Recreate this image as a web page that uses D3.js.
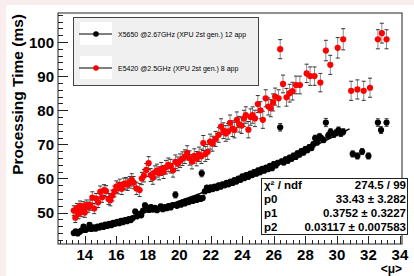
<!DOCTYPE html>
<html><head><meta charset="utf-8">
<script src="https://cdn.jsdelivr.net/npm/d3@7"></script>
<style>
html,body{margin:0;padding:0;background:#f9eded;}
svg{display:block;font-family:"Liberation Sans",Arial,sans-serif;}
</style></head><body>
<svg id="c" width="414" height="276"></svg>
<script>
// ---- data ----
const blackMu = [13.30,13.42,13.55,13.68,13.80,13.92,14.05,14.18,14.30,14.42,14.55,14.68,14.80,14.92,15.05,15.18,15.30,15.42,15.55,15.68,15.80,15.92,16.05,16.18,16.30,16.42,16.55,16.68,16.80,16.92,17.05,17.20,17.32,17.45,17.58,17.70,17.82,17.95,18.08,18.20,18.32,18.45,18.58,18.70,18.82,18.95,19.08,19.20,19.32,19.45,19.58,19.75,19.85,19.98,20.10,20.22,20.35,20.48,20.60,20.72,20.85,20.98,21.10,21.22,21.35,21.42,21.48,21.62,21.75,21.88,22.00,22.12,22.25,22.38,22.50,22.62,22.75,22.88,23.00,23.12,23.25,23.38,23.50,23.62,23.75,23.88,24.00,24.12,24.25,24.38,24.50,24.62,24.75,24.88,25.00,25.12,25.25,25.38,25.50,25.62,25.75,25.88,26.00,26.12,26.25,26.40,26.50,26.62,26.75,26.88,27.00,27.12,27.25,27.38,27.50,27.62,27.75,27.88,28.00,28.12,28.25,28.38,28.50,28.62,28.75,28.90,29.00,29.15,29.30,29.45,29.60,29.80,29.95,30.10,30.25,30.40,31.00,31.30,31.60,32.00,32.60,32.80,33.15];
const blackTime = [44.0,44.5,43.9,44.4,44.8,45.9,44.9,45.3,46.4,45.2,45.7,45.3,45.9,45.6,46.2,45.8,46.5,46.1,46.7,46.3,47.0,46.7,47.3,46.9,47.6,47.2,47.8,47.5,48.1,47.8,48.4,50.3,48.9,49.6,49.2,50.6,52.1,51.5,50.8,51.6,50.9,51.4,50.7,51.2,51.8,51.0,51.6,51.3,51.9,51.5,52.2,55.2,52.0,52.6,52.3,53.0,52.7,53.4,53.1,53.7,53.4,54.1,53.7,54.4,54.0,61.5,54.3,56.2,57.3,56.6,57.4,56.9,57.6,57.2,58.0,57.6,58.3,58.0,58.7,58.3,59.1,58.7,59.5,59.1,60.0,59.6,60.6,60.1,61.0,60.5,61.4,61.0,61.9,61.4,62.4,61.8,62.8,62.3,63.2,62.7,63.7,63.0,64.2,63.8,64.6,75.0,65.0,64.7,65.6,65.2,66.1,65.8,66.7,66.3,67.4,67.0,68.0,67.6,68.6,68.3,69.2,68.9,70.0,71.8,70.6,72.3,71.8,71.3,76.4,72.6,73.7,72.9,73.4,74.2,73.2,73.7,67.2,66.6,67.9,66.6,76.4,74.2,76.4];
const blackErr = [0.5,0.5,0.5,0.5,0.5,0.6,0.5,0.5,0.6,0.5,0.5,0.5,0.5,0.5,0.5,0.5,0.5,0.5,0.5,0.5,0.5,0.5,0.5,0.5,0.5,0.5,0.5,0.5,0.5,0.5,0.5,0.7,0.5,0.6,0.5,0.6,0.7,0.6,0.5,0.6,0.5,0.5,0.5,0.5,0.6,0.5,0.5,0.5,0.6,0.5,0.6,0.9,0.5,0.6,0.5,0.6,0.5,0.6,0.5,0.6,0.5,0.6,0.5,0.6,0.5,1.0,0.6,0.6,0.6,0.6,0.6,0.6,0.6,0.6,0.6,0.6,0.6,0.6,0.6,0.6,0.6,0.6,0.6,0.6,0.6,0.6,0.6,0.6,0.6,0.6,0.6,0.6,0.6,0.6,0.6,0.6,0.6,0.6,0.6,0.6,0.6,0.6,0.7,0.6,0.7,1.1,0.7,0.7,0.7,0.7,0.7,0.7,0.7,0.7,0.7,0.7,0.7,0.7,0.7,0.7,0.7,0.7,0.8,0.9,0.8,0.9,0.8,0.8,1.2,0.9,0.9,0.9,0.9,0.9,0.9,0.9,0.9,0.9,0.9,0.9,1.1,1.0,1.1];

const redMu = [13.30,13.40,13.50,13.60,13.70,13.80,13.90,14.00,14.10,14.22,14.35,14.48,14.60,14.72,14.85,14.98,15.10,15.22,15.35,15.50,15.62,15.75,15.88,16.00,16.12,16.22,16.35,16.48,16.60,16.72,16.85,16.98,17.10,17.28,17.48,17.62,17.75,17.90,18.05,18.18,18.32,18.45,18.58,18.72,18.85,19.00,19.15,19.30,19.45,19.60,19.75,19.90,20.05,20.20,20.35,20.50,20.65,20.80,20.95,21.10,21.25,21.40,21.52,21.65,21.80,21.95,22.10,22.30,22.50,22.65,22.80,22.95,23.10,23.22,23.38,23.50,23.65,23.80,23.95,24.10,24.22,24.38,24.52,24.65,24.80,24.98,25.15,25.30,25.48,25.65,25.80,25.95,26.08,26.30,26.40,26.58,26.80,27.00,27.18,27.40,27.65,28.08,28.30,28.58,28.95,29.30,29.58,30.05,30.40,30.90,31.30,31.70,32.10,32.60,32.85,33.15];
const redTime = [50.6,48.5,51.3,49.6,52.0,50.2,51.8,50.0,52.3,51.6,52.2,54.4,51.2,54.1,53.0,56.1,54.5,56.6,56.3,54.0,53.6,55.0,56.2,57.6,57.2,58.1,57.0,58.4,58.6,58.2,58.9,59.6,58.8,57.1,56.6,60.0,60.8,62.5,64.5,61.0,60.2,61.8,62.3,61.5,62.8,61.9,63.3,64.0,63.6,62.4,64.9,64.3,65.2,65.8,66.4,67.5,66.0,64.9,66.6,65.8,67.1,66.5,70.4,67.2,67.8,70.8,70.2,71.6,72.8,75.2,74.0,73.2,73.8,76.3,74.6,74.2,77.2,75.9,75.5,77.6,78.6,74.3,78.0,78.6,77.6,81.8,80.0,77.2,83.5,81.1,80.6,82.3,84.0,83.5,97.9,87.7,83.8,85.0,85.6,87.4,87.4,90.8,90.0,90.0,88.1,97.5,93.3,98.3,100.8,85.7,86.1,85.7,86.6,100.8,102.6,100.8];
const redErr = [1.4,1.4,1.4,1.4,1.4,1.4,1.4,1.4,1.4,1.5,1.5,1.7,1.5,1.5,1.5,1.7,1.5,1.6,1.6,1.6,1.6,1.6,1.6,1.7,1.7,1.7,1.7,1.7,1.7,1.7,1.7,1.8,1.8,1.8,1.9,1.8,1.8,1.9,1.9,1.9,1.9,1.9,1.9,1.9,1.9,1.9,2.0,2.0,2.0,2.0,2.0,2.0,2.0,2.0,2.0,2.1,2.1,2.1,2.1,2.1,2.1,2.1,2.2,2.2,2.2,2.2,2.2,2.2,2.2,2.3,2.3,2.3,2.3,2.3,2.3,2.3,2.3,2.3,2.3,2.4,2.4,2.4,2.4,2.4,2.4,2.5,2.5,2.5,2.5,2.5,2.5,2.5,2.5,2.5,2.8,2.6,2.6,2.6,2.6,2.6,2.6,2.7,2.7,2.7,2.7,3.0,2.8,3.0,3.1,2.8,2.8,2.8,2.8,2.8,2.9,2.8];

const fitParams = [33.43, 0.3752, 0.03117];
const fitRange = [13.3, 30.8];
const yTicks = [50,60,70,80,90,100];
const xTicks = [14,16,18,20,22,24,26,28,30,32,34];
const legendLabels = ["X5650 @2.67GHz (XPU 2st gen.) 12 app","E5420 @2.5GHz (XPU 2st gen.) 8 app"];
const statLabels = ["\u03C7\u00B2 / ndf","p0","p1","p2"];
const statValues = ["274.5 / 99","33.43 \u00B1 3.282","0.3752 \u00B1 0.3227","0.03117 \u00B1 0.007583"];

// ---- drawing ----
const svg = d3.select("#c");
svg.append("rect").attr("x",6).attr("y",5).attr("width",408).attr("height",271).attr("fill","#ffffff");

const L=58, R=402, T=13, B=244;
const x = d3.scaleLinear().domain([12.3,34.13]).range([L,R]);
const y = d3.scaleLinear().domain([40.8,108.5]).range([B,T]);

// frame
svg.append("rect").attr("x",L).attr("y",T).attr("width",R-L).attr("height",B-T)
  .attr("fill","none").attr("stroke","#222").attr("stroke-width",1);

// y axis ticks (inside)
const yMinor = d3.range(42,108.5,2);
const gy = svg.append("g");
gy.selectAll("line.mi").data(yMinor).join("line")
  .attr("x1",L).attr("x2",d=> d%10===0 ? L+10 : L+5)
  .attr("y1",d=>Math.round(y(d))+0.5).attr("y2",d=>Math.round(y(d))+0.5)
  .attr("stroke","#222").attr("stroke-width",1);
gy.selectAll("text").data(yTicks).join("text")
  .attr("x",L-4).attr("y",d=>y(d)+5.5).attr("text-anchor","end")
  .attr("font-size",15).attr("font-weight","bold").text(d=>d);

// x axis ticks (inside)
const xMinor = d3.range(12.4,34.1,0.4);
const gx = svg.append("g");
gx.selectAll("line").data(xMinor).join("line")
  .attr("x1",d=>Math.round(x(d))+0.5).attr("x2",d=>Math.round(x(d))+0.5)
  .attr("y1",B).attr("y2",d=> Math.abs(d/2-Math.round(d/2))<0.01 ? B-8 : B-4)
  .attr("stroke","#222").attr("stroke-width",1);
gx.selectAll("text").data(xTicks).join("text")
  .attr("x",d=>x(d)).attr("y",260).attr("text-anchor","middle")
  .attr("font-size",15).attr("font-weight","bold").text(d=>d);

// axis titles
svg.append("text").attr("transform","translate(22.5,14) rotate(-90)")
  .attr("text-anchor","end").attr("font-size",15.5).attr("font-weight","bold")
  .text("Processing Time (ms)");
svg.append("text").attr("x",402).attr("y",273).attr("text-anchor","end")
  .attr("font-size",12).attr("font-weight","bold").text("<\u03BC>");

// series drawing helper
function drawSeries(mu, val, err, color){
  const g = svg.append("g");
  const idx = d3.range(mu.length);
  g.selectAll("line.eb").data(idx).join("line")
    .attr("x1",i=>x(mu[i])).attr("x2",i=>x(mu[i]))
    .attr("y1",i=>y(val[i]-err[i])).attr("y2",i=>y(val[i]+err[i]))
    .attr("stroke","#8a8a8a").attr("stroke-width",1);
  ["-","+"].forEach(s=>{
    g.selectAll("line.cap"+(s==="+"?"p":"m")).data(idx).join("line")
      .attr("x1",i=>x(mu[i])-2).attr("x2",i=>x(mu[i])+2)
      .attr("y1",i=>y(s==="+"?val[i]+err[i]:val[i]-err[i]))
      .attr("y2",i=>y(s==="+"?val[i]+err[i]:val[i]-err[i]))
      .attr("stroke","#333").attr("stroke-width",1);
  });
  g.selectAll("circle").data(idx).join("circle")
    .attr("cx",i=>x(mu[i])).attr("cy",i=>y(val[i])).attr("r",3.1)
    .attr("fill",color);
}
drawSeries(redMu, redTime, redErr, "#ff0000");
drawSeries(blackMu, blackTime, blackErr, "#000000");

// fit curve
const fitX = d3.range(fitRange[0], fitRange[1]+0.001, 0.1);
svg.append("path")
  .attr("d", d3.line().x(d=>x(d)).y(d=>y(fitParams[0]+fitParams[1]*d+fitParams[2]*d*d))(fitX))
  .attr("fill","none").attr("stroke","#000").attr("stroke-width",1.5);

// legend
const lg = svg.append("g");
lg.append("rect").attr("x",73.5).attr("y",17.5).attr("width",185).attr("height",68)
  .attr("fill","#f0f0f0").attr("stroke","#444").attr("stroke-width",1);
const lgY = [34,68];
const lgColors = ["#000000","#ff0000"];
lgY.forEach((yy,i)=>{
  lg.append("rect").attr("x",80).attr("y",yy-12).attr("width",32).attr("height",23).attr("fill","#ffffff");
  lg.append("line").attr("x1",79).attr("x2",112).attr("y1",yy).attr("y2",yy).attr("stroke","#000").attr("stroke-width",1);
  lg.append("circle").attr("cx",96).attr("cy",yy).attr("r",2.8).attr("fill",lgColors[i]);
  lg.append("text").attr("x",118).attr("y",yy+2.5).attr("font-size",7).text(legendLabels[i]);
});

// stats box
const sb = svg.append("g");
sb.append("rect").attr("x",261.5).attr("y",178.5).attr("width",146).attr("height",56)
  .attr("fill","#ffffff").attr("stroke","#222").attr("stroke-width",1);
statLabels.forEach((s,i)=>{
  sb.append("text").attr("x",264).attr("y",189+i*14).attr("font-size",11.5).attr("font-weight","bold").text(s);
  sb.append("text").attr("x",406).attr("y",189+i*14).attr("text-anchor","end").attr("font-size",11.5).attr("font-weight","bold").text(statValues[i]);
});
</script>
</body></html>
